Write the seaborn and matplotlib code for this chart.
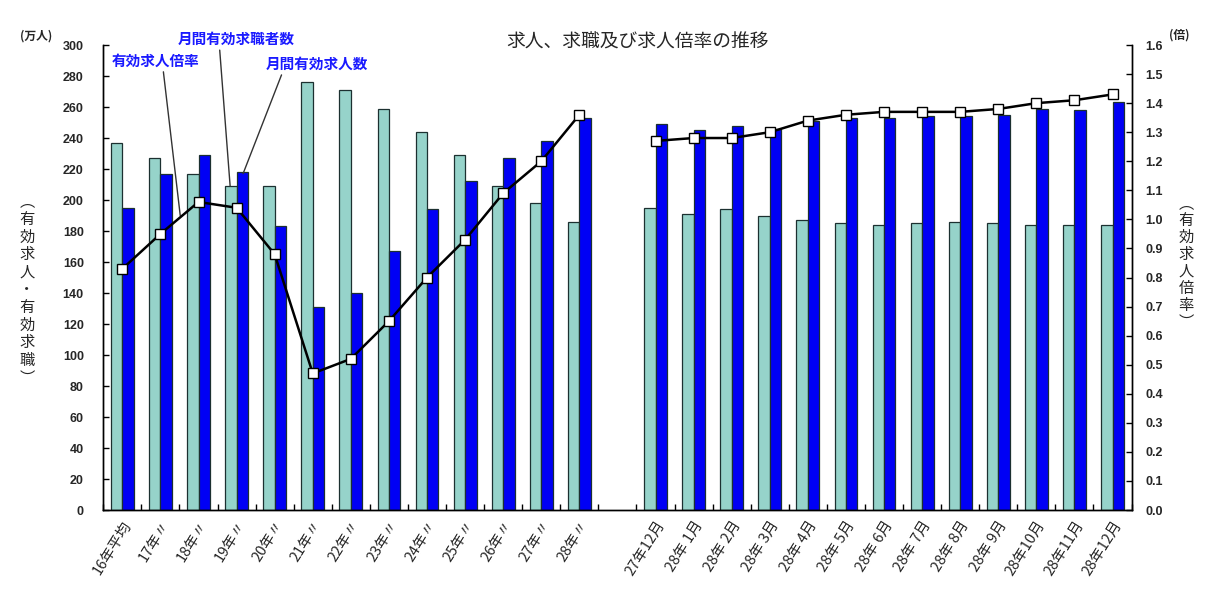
import numpy as np
import pandas as pd
import matplotlib
matplotlib.use("Agg")
import matplotlib.pyplot as plt
import seaborn as sns

# ---- data ----
year_labels = ["16年平均", "17年〃", "18年〃", "19年〃", "20年〃", "21年〃", "22年〃",
               "23年〃", "24年〃", "25年〃", "26年〃", "27年〃", "28年〃"]
month_labels = ["27年12月", "28年 1月", "28年 2月", "28年 3月", "28年 4月", "28年 5月",
                "28年 6月", "28年 7月", "28年 8月", "28年 9月", "28年10月", "28年11月", "28年12月"]

# 月間有効求職者数 (万人)
seekers_year = [237, 227, 217, 209, 209, 276, 271, 259, 244, 229, 209, 198, 186]
seekers_month = [195, 191, 194, 190, 187, 185, 184, 185, 186, 185, 184, 184, 184]
# 月間有効求人数 (万人)
openings_year = [195, 217, 229, 218, 183, 131, 140, 167, 194, 212, 227, 238, 253]
openings_month = [249, 245, 248, 246, 251, 253, 253, 254, 254, 255, 259, 258, 263]
# 有効求人倍率 (倍)
ratio_year = [0.83, 0.95, 1.06, 1.04, 0.88, 0.47, 0.52, 0.65, 0.80, 0.93, 1.09, 1.20, 1.36]
ratio_month = [1.27, 1.28, 1.28, 1.30, 1.34, 1.36, 1.37, 1.37, 1.37, 1.38, 1.40, 1.41, 1.43]

gap_label = " "
all_labels = year_labels + [gap_label] + month_labels

# long-form table for seaborn
df = pd.DataFrame({
    "label": year_labels + month_labels + year_labels + month_labels,
    "series": ["求職"] * 26 + ["求人"] * 26,
    "value": seekers_year + seekers_month + openings_year + openings_month,
})
ratio_all = np.array(ratio_year + [np.nan] + ratio_month)

TEAL = "#96D3CA"
BLUE = "#0000F5"
EDGE = "#1c3030"

sns.set_style("ticks")
plt.rcParams["font.family"] = ["Noto Sans CJK JP", "DejaVu Sans"]

fig = plt.figure(figsize=(12.14, 6.06), dpi=100)
ax = fig.add_axes([0.0851, 0.1584, 0.8470, 0.7673])

sns.barplot(data=df, x="label", y="value", hue="series", order=all_labels,
            hue_order=["求職", "求人"], palette=[TEAL, BLUE], saturation=1,
            width=0.6, edgecolor=EDGE, linewidth=0.9, errorbar=None,
            legend=False, ax=ax)

ax.set_xlim(-0.5, len(all_labels) - 0.5)
ax.set_ylim(0, 300)
ax.set_yticks(np.arange(0, 301, 20))
ax.set_xlabel("")
ax.set_ylabel("")
ax.set_xticks(np.arange(len(all_labels)))
ax.set_xticklabels(all_labels, rotation=58, ha="right", rotation_mode="anchor",
                   fontsize=10.5)
ax.set_xticks(np.arange(-0.5, len(all_labels)), minor=True)
ax.tick_params(axis="x", which="major", length=0, pad=6)
ax.tick_params(axis="x", which="minor", direction="in", length=4, width=1, color="black")
ax.tick_params(axis="y", direction="in", length=4, width=1, pad=14, color="black")
for t in ax.get_yticklabels():
    t.set_fontfamily("Liberation Sans")
    t.set_fontweight("bold")
    t.set_fontsize(9)

# ---- ratio line on the right axis ----
ax2 = ax.twinx()
ax2.plot(np.arange(len(all_labels)), ratio_all, color="black", lw=1.8,
         marker="s", markersize=7.5, markerfacecolor="white",
         markeredgecolor="black", markeredgewidth=1, zorder=5)
ax2.set_ylim(0, 1.6)
ax2.set_yticks(np.arange(0, 1.61, 0.1))
ax2.set_yticklabels([f"{v:.1f}" for v in np.arange(0, 1.61, 0.1)])
ax2.tick_params(axis="y", direction="in", length=4, width=1, pad=10, color="black")
for t in ax2.get_yticklabels():
    t.set_fontfamily("Liberation Sans")
    t.set_fontweight("bold")
    t.set_fontsize(9)

for a in (ax, ax2):
    a.spines["top"].set_visible(False)
    for s in ("left", "right", "bottom"):
        a.spines[s].set_color("black")
        a.spines[s].set_linewidth(1)

# ---- callouts ----
callout = dict(color="#1a1aff", fontsize=10.5, fontweight="bold",
               ha="center", va="center", annotation_clip=False)
ax.annotate("有効求人倍率", xy=(1.52, 190), xytext=(0.86, 290),
            arrowprops=dict(arrowstyle="-", color="#333333", lw=1,
                            shrinkA=0, shrinkB=0, relpos=(0.59, 0)), **callout)
ax.annotate("月間有効求職者数", xy=(2.83, 209), xytext=(2.98, 304),
            arrowprops=dict(arrowstyle="-", color="#333333", lw=1,
                            shrinkA=0, shrinkB=0, relpos=(0.36, 0)), **callout)
ax.annotate("月間有効求人数", xy=(3.17, 217), xytext=(5.1, 288),
            arrowprops=dict(arrowstyle="-", color="#333333", lw=1,
                            shrinkA=0, shrinkB=0, relpos=(0.17, 0)), **callout)

# ---- titles and unit labels ----
fig.text(637.5 / 1214, 1 - 42 / 606, "求人、求職及び求人倍率の推移",
         ha="center", va="center", fontsize=13.5)
fig.text(36 / 1214, 1 - 36 / 606, "(万人)", ha="center", va="center",
         fontsize=8.5, fontweight="bold")
fig.text(1179 / 1214, 1 - 35 / 606, "(倍)", ha="center", va="center",
         fontsize=8.5, fontweight="bold")
fig.text(27 / 1214, 1 - 290 / 606, "\n".join("︵有効求人・有効求職︶"),
         ha="center", va="center", fontsize=11, linespacing=1.05)
fig.text(1186 / 1214, 1 - 263 / 606, "\n".join("︵有効求人倍率︶"),
         ha="center", va="center", fontsize=11, linespacing=1.0)

fig.savefig("out.png", dpi=100)
plt.close(fig)
